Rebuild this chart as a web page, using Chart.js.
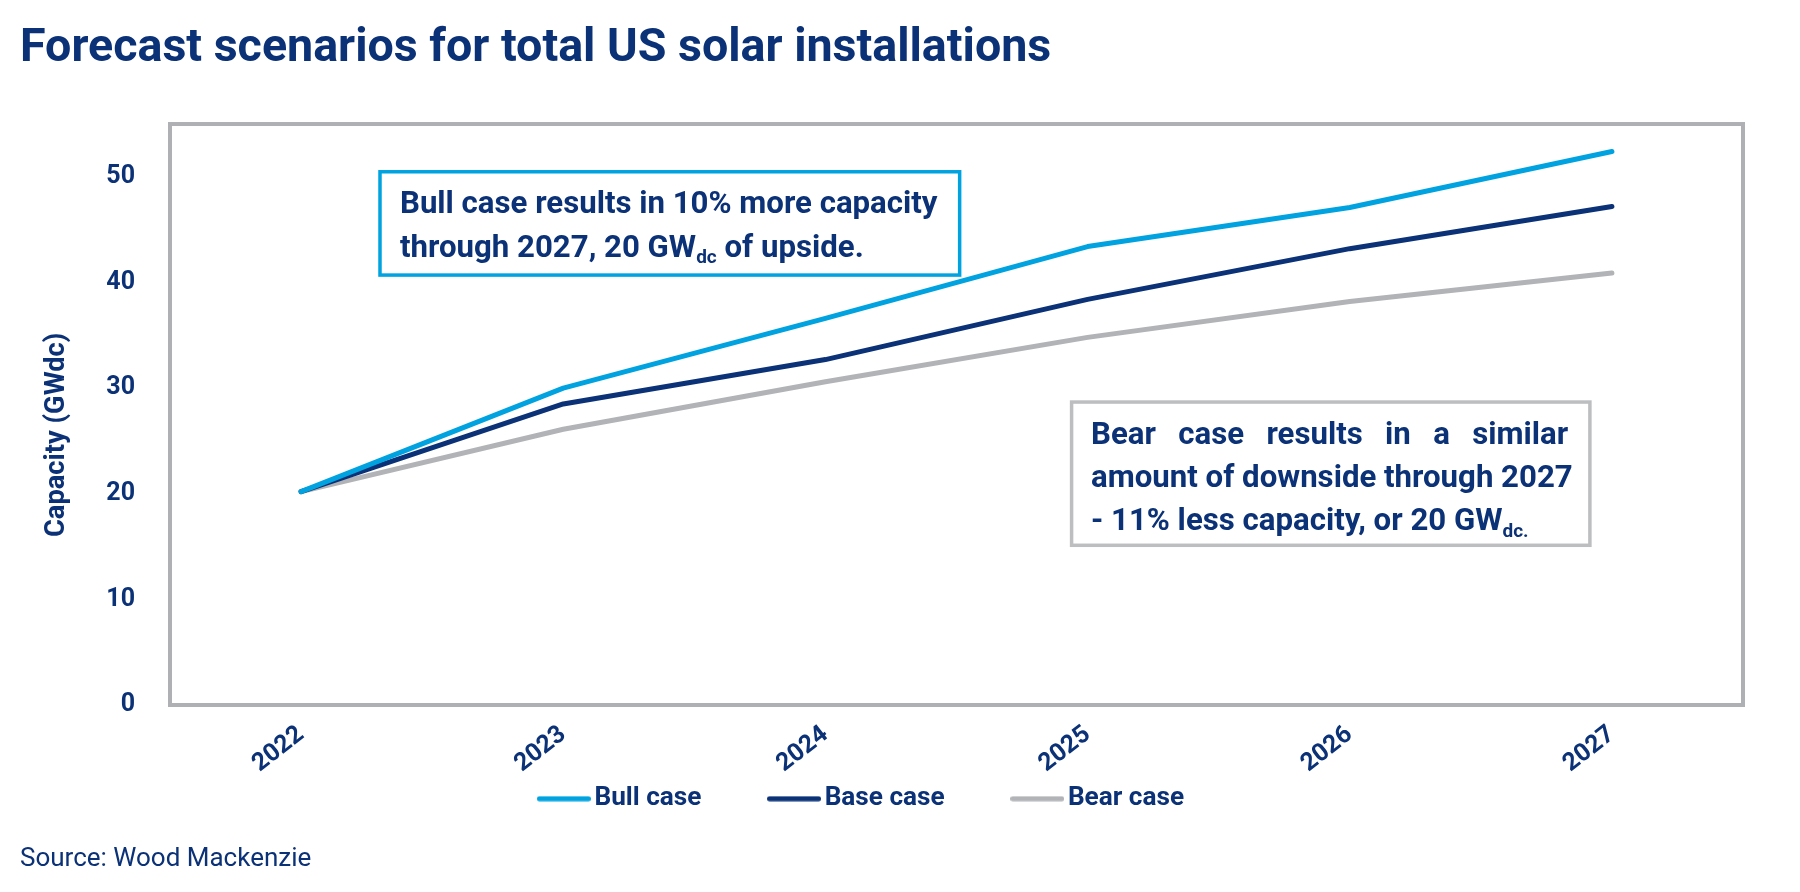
<!DOCTYPE html>
<html>
<head>
<meta charset="utf-8">
<script src="https://cdn.jsdelivr.net/npm/chart.js@4.4.1/dist/chart.umd.min.js"></script>
<style>
  html, body { margin: 0; padding: 0; background: #ffffff; }
  #c { display: block; }
</style>
</head>
<body>
<canvas id="c" width="1800" height="892"></canvas>
<script>
// ---------- data ----------
const years = ['2022', '2023', '2024', '2025', '2026', '2027'];
const bullCase = [20.2, 30.0, 36.6, 43.4, 47.1, 52.4];
const baseCase = [20.2, 28.5, 32.7, 38.4, 43.2, 47.2];
const bearCase = [20.2, 26.1, 30.6, 34.8, 38.2, 40.9];
const yTickValues = [0, 10, 20, 30, 40, 50];
const seriesNames = ['Bull case', 'Base case', 'Bear case'];
const chartTitle = 'Forecast scenarios for total US solar installations';
const sourceText = 'Source: Wood Mackenzie';
const yAxisTitle = 'Capacity (GWdc)';
const bullNoteLines = [
  [['Bull case results in 10% more capacity', false]],
  [['through 2027, 20 GW', false], ['dc', true], [' of upside.', false]]
];
const bearNoteLines = [
  [['Bear case results in a similar', false]],
  [['amount of downside through 2027', false]],
  [['- 11% less capacity, or 20 GW', false], ['dc.', true]]
];

// ---------- styles ----------
const NAVY = '#0B3177';
const BULL = '#00A3E0';
const BASE = '#0B3177';
const BEAR = '#B1B3B6';
const FRAME = '#AEB0B3';
const FONT = 'Roboto';

Chart.defaults.font.family = FONT;
Chart.defaults.color = NAVY;

// annotation placement (category index / value units)
const notes = [
  { lines: bullNoteLines, x0: 0.301, x1: 2.512, yTop: 50.48, yBottom: 40.70, border: BULL,
    padL: 20, padR: 20, firstBase: 41.6, lineStep: 43.4, justifyFirst: false },
  { lines: bearNoteLines, x0: 2.939, x1: 4.916, yTop: 28.68, yBottom: 15.12, border: '#BDBEC0',
    padL: 19.4, padR: 21.7, firstBase: 41.7, lineStep: 43.3, justifyFirst: true }
];

function legendLine(color) {
  const c = document.createElement('canvas');
  c.width = 54; c.height = 6;
  const g = c.getContext('2d');
  g.strokeStyle = color;
  g.lineWidth = 5;
  g.lineCap = 'round';
  g.beginPath();
  g.moveTo(2.5, 3);
  g.lineTo(51.5, 3);
  g.stroke();
  return c;
}
const legendPad = ['          ', '          ', '     '];

const framePlugin = {
  id: 'frame',
  beforeDatasetsDraw(chart) {
    const { ctx, chartArea: a } = chart;
    ctx.save();
    ctx.strokeStyle = FRAME;
    ctx.lineWidth = 4;
    ctx.strokeRect(a.left, a.top, a.right - a.left, a.bottom - a.top);
    ctx.restore();
  }
};

function segFont(sub) {
  return sub ? 'bold 19px ' + FONT : 'bold 31.2px ' + FONT;
}

const notesPlugin = {
  id: 'notes',
  afterDatasetsDraw(chart) {
    const { ctx } = chart;
    const xs = chart.scales.x, ys = chart.scales.y;
    notes.forEach(n => {
      const l = xs.getPixelForValue(n.x0), r = xs.getPixelForValue(n.x1);
      const t = ys.getPixelForValue(n.yTop), b = ys.getPixelForValue(n.yBottom);
      ctx.save();
      ctx.fillStyle = '#ffffff';
      ctx.fillRect(l, t, r - l, b - t);
      ctx.strokeStyle = n.border;
      ctx.lineWidth = 3.5;
      ctx.strokeRect(l, t, r - l, b - t);
      ctx.fillStyle = NAVY;
      ctx.textBaseline = 'alphabetic';
      ctx.textAlign = 'left';
      const innerW = (r - l) - n.padL - n.padR;
      n.lines.forEach((segs, i) => {
        const base = t + n.firstBase + i * n.lineStep;
        let x = l + n.padL;
        if (i === 0 && n.justifyFirst && segs.length === 1) {
          ctx.font = segFont(false);
          const words = segs[0][0].split(' ');
          const widths = words.map(w => ctx.measureText(w).width);
          const total = widths.reduce((s, w) => s + w, 0);
          const gap = (innerW - total) / (words.length - 1);
          words.forEach((w, k) => {
            ctx.fillText(w, x, base);
            x += widths[k] + gap;
          });
          return;
        }
        segs.forEach(([txt, sub]) => {
          ctx.font = segFont(sub);
          ctx.fillText(txt, x, sub ? base + 6.5 : base);
          x += ctx.measureText(txt).width;
        });
      });
      ctx.restore();
    });
  }
};

new Chart(document.getElementById('c'), {
  type: 'line',
  data: {
    labels: years,
    datasets: [
      { label: seriesNames[0], data: bullCase, borderColor: BULL, backgroundColor: BULL },
      { label: seriesNames[1], data: baseCase, borderColor: BASE, backgroundColor: BASE },
      { label: seriesNames[2], data: bearCase, borderColor: BEAR, backgroundColor: BEAR }
    ].map(d => Object.assign(d, {
      borderWidth: 5, pointRadius: 0, pointHoverRadius: 0, tension: 0, fill: false,
      borderCapStyle: 'round', borderJoinStyle: 'round'
    }))
  },
  options: {
    responsive: false,
    animation: false,
    devicePixelRatio: 1,
    layout: { padding: { left: 20, right: 57, top: 0, bottom: 0 } },
    plugins: {
      title: {
        display: true, text: chartTitle, align: 'start', color: NAVY,
        font: { family: FONT, size: 46.6, weight: 'bold' },
        padding: { top: 21, bottom: 47.1 }
      },
      subtitle: {
        display: true, text: sourceText, position: 'bottom', align: 'start', color: NAVY,
        font: { family: FONT, size: 26, weight: 'normal' },
        padding: { top: 22, bottom: 17 }
      },
      legend: {
        position: 'bottom',
        labels: {
          color: NAVY, usePointStyle: true, pointStyleWidth: 35, boxHeight: 6, padding: 10,
          font: { family: FONT, size: 26.2, weight: 'bold' },
          generateLabels(chart) {
            const items = Chart.defaults.plugins.legend.labels.generateLabels(chart);
            items.forEach((it, i) => {
              const ds = chart.data.datasets[it.datasetIndex];
              it.pointStyle = legendLine(ds.borderColor);
              it.lineWidth = 0;
              it.text = it.text + legendPad[i];
            });
            return items;
          }
        }
      },
      tooltip: { enabled: false }
    },
    scales: {
      x: {
        offset: true,
        grid: { display: false },
        border: { display: false },
        ticks: {
          autoSkip: false, minRotation: 38, maxRotation: 38, padding: 7, color: NAVY,
          font: { family: FONT, size: 25, weight: 'bold' }
        },
        afterFit(s) { s.height = 70.6; }
      },
      y: {
        min: 0, max: 55,
        grid: { display: false },
        border: { display: false },
        ticks: {
          stepSize: 10, padding: 27, color: NAVY,
          font: { family: FONT, size: 25, weight: 'bold' }
        },
        afterBuildTicks(s) { s.ticks = s.ticks.filter(t => yTickValues.includes(t.value)); },
        afterFit(s) { s.width = 150; },
        title: {
          display: true, text: yAxisTitle + '      ', color: NAVY,
          font: { family: FONT, size: 27.3, weight: 'bold' },
          padding: { top: 20.3, bottom: 0 }
        }
      }
    }
  },
  plugins: [framePlugin, notesPlugin]
});
</script>
</body>
</html>
